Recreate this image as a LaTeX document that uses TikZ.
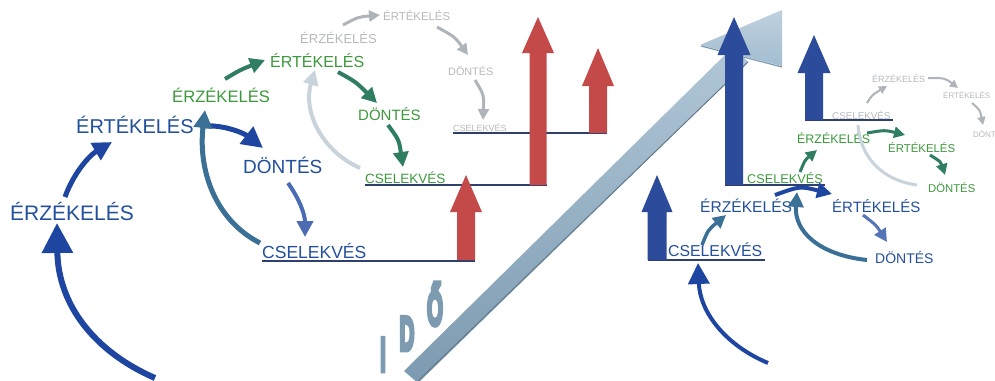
\documentclass[tikz,border=0pt]{standalone}
\usepackage{fontspec}
\setmainfont{Liberation Sans}
\newfontfamily\idofont[FakeBold=10]{Liberation Sans Bold}
\usetikzlibrary{arrows.meta}
\definecolor{blueT}{HTML}{22509C}
\definecolor{greenT}{HTML}{3C9A3C}
\definecolor{grayT}{HTML}{B5B9BE}
\definecolor{blueA}{HTML}{1E46A0}
\definecolor{steelA}{HTML}{3A6F96}
\definecolor{tealA}{HTML}{2F7E62}
\definecolor{grayA}{HTML}{AEB4BA}
\definecolor{lgrayA}{HTML}{C9D3DC}
\definecolor{redB}{HTML}{C44A4A}
\definecolor{blueB}{HTML}{2C4B9A}
\definecolor{timeA}{HTML}{A3BDD0}
\definecolor{timeD}{HTML}{7C9AB0}
\definecolor{lineC}{HTML}{2F3F6E}
\newcommand\fs[1]{\fontsize{#1}{#1}\selectfont}
\newcommand\upblock[7]{%
  \fill[#1] (#2-#6,#3) -- (#2-#6,#4) -- (#2-#7,#4) -- (#2,#5) -- (#2+#7,#4) -- (#2+#6,#4) -- (#2+#6,#3) -- cycle;}
\tikzset{
  tx/.style={inner sep=0pt, anchor=base west},
  baseline/.style={draw=lineC, line width=1.4pt},
  cur/.style 2 args={line width=#1, -{Triangle[length=#2,width=#2]}},
  ido/.style={inner sep=0pt, anchor=base, text depth=0pt, text=timeD, font=\idofont\fs{34}, transform shape, xscale=0.6, yscale=1.4}
}
\begin{document}
\begin{tikzpicture}[x=1pt,y=-1pt]
\useasboundingbox (0,0) rectangle (995,380);
\fill[white] (0,0) rectangle (995,380);

% ---------- time arrow ----------
\shade[top color=timeA!85!white, bottom color=timeD] (404,371) -- (733,47) -- (748,62) -- (418,383) -- cycle;
\draw[timeD!80!black, line width=1pt] (418,381) -- (748,62);
\shade[top color=timeA!70!white, bottom color=timeA] (700,45) -- (782,10) -- (782,66) -- cycle;
\draw[timeD, line width=1.2pt] (701,46) -- (782,67);

% IDŐ
\node[ido] (ti) at (383,371) {I};
\node[ido] (td) at (407,350) {D};
\node[ido] (to) at (435,325) {Ő};

% ---------- base lines ----------
\draw[baseline] (262,261) -- (475,261);
\draw[baseline] (365,185) -- (547,185);
\draw[baseline] (453,133) -- (607,133);
\draw[baseline] (648,260) -- (765,260);
\draw[baseline] (725,185) -- (825,185);
\draw[baseline] (805,120) -- (893,120);

% ---------- block arrows ----------
\upblock{redB}{466}{260}{212}{175}{9}{16}
\upblock{redB}{538}{185}{53}{17}{8.5}{16}
\upblock{redB}{598}{133}{86}{48}{9}{16}
\upblock{blueB}{734}{185}{55}{17}{9}{16.5}
\upblock{blueB}{814}{120}{73}{35}{9}{16.5}
\upblock{blueB}{657}{260}{212}{175}{9.5}{15.5}

% ---------- left blue cycle ----------
\node[tx,text=blueT,font=\fs{21}] (b1) at (10,220) {ÉRZÉKELÉS};
\node[tx,text=blueT,font=\fs{20}] (b2) at (76,133) {ÉRTÉKELÉS};
\node[tx,text=blueT,font=\fs{19}] (b3) at (243,173) {DÖNTÉS};
\node[tx,text=blueT,font=\fs{17.5}] (b4) at (262,258) {CSELEKVÉS};
\draw[cur={6pt}{30pt}, blueA] (155,378) .. controls (95,352) and (58,305) .. (57,223);
\draw[cur={5pt}{19pt}, blueA] (65,197) .. controls (74,172) and (90,155) .. (112,142);
\draw[cur={5pt}{21pt}, blueA] (200,126) .. controls (225,124) and (245,134) .. (263,148);
\draw[cur={4pt}{16pt}, blueA!80!white] (288,183) .. controls (300,200) and (305,215) .. (305,237);
\draw[cur={5pt}{18pt}, steelA] (260,243) .. controls (215,220) and (198,170) .. (205,110);

% ---------- left green cycle ----------
\node[tx,text=greenT,font=\fs{16.6}] (g1) at (172,102) {ÉRZÉKELÉS};
\node[tx,text=greenT,font=\fs{16}] (g2) at (270,67) {ÉRTÉKELÉS};
\node[tx,text=greenT,font=\fs{15}] (g3) at (358,120) {DÖNTÉS};
\node[tx,text=greenT,font=\fs{13.5}] (g4) at (365,183) {CSELEKVÉS};
\draw[cur={4pt}{15pt}, tealA] (225,79) .. controls (240,70) .. (265,60);
\draw[cur={4pt}{15pt}, tealA] (338,72) .. controls (356,82) .. (377,103);
\draw[cur={4pt}{15pt}, tealA] (388,125) .. controls (399,140) .. (403,167);
\draw[cur={4pt}{15pt}, lgrayA] (360,168) .. controls (320,150) and (303,110) .. (315,70);

% ---------- left gray cycle ----------
\node[tx,text=grayT,font=\fs{13}] (h1) at (300,43) {ÉRZÉKELÉS};
\node[tx,text=grayT,font=\fs{11.4}] (h2) at (383,20) {ÉRTÉKELÉS};
\node[tx,text=grayT,font=\fs{10.8}] (h3) at (448,75) {DÖNTÉS};
\node[tx,text=grayT,font=\fs{9}] (h4) at (453,131) {CSELEKVÉS};
\draw[cur={3pt}{11pt}, grayA] (343,25) .. controls (358,17) .. (380,15);
\draw[cur={3pt}{11pt}, grayA] (437,27) .. controls (455,37) .. (468,55);
\draw[cur={3pt}{11pt}, grayA] (475,80) .. controls (484,95) .. (483,120);

% ---------- right blue cycle ----------
\node[tx,text=blueT,font=\fs{15.8}] (r1) at (668,256) {CSELEKVÉS};
\node[tx,text=blueT,font=\fs{15.6}] (r2) at (700,212) {ÉRZÉKELÉS};
\node[tx,text=blueT,font=\fs{15}] (r3) at (832,212) {ÉRTÉKELÉS};
\node[tx,text=blueT,font=\fs{14}] (r4) at (875,263) {DÖNTÉS};
\draw[cur={4pt}{21pt}, blueA] (768,363) .. controls (725,345) and (700,312) .. (698,263);
\draw[cur={3.5pt}{13pt}, steelA] (702,245) .. controls (708,230) .. (726,215);
\draw[cur={4pt}{15pt}, blueA] (775,195) .. controls (800,186) .. (832,194);
\draw[cur={3pt}{13pt}, blueA!75!white] (863,215) .. controls (876,225) .. (887,242);
\draw[cur={4pt}{15pt}, steelA] (867,260) .. controls (820,255) and (794,232) .. (797,192);

% ---------- right green cycle ----------
\node[tx,text=greenT,font=\fs{12.7}] (s1) at (747,183) {CSELEKVÉS};
\node[tx,text=greenT,font=\fs{12.4}] (s2) at (797,143) {ÉRZÉKELÉS};
\node[tx,text=greenT,font=\fs{11.4}] (s3) at (888,152) {ÉRTÉKELÉS};
\node[tx,text=greenT,font=\fs{11.3}] (s4) at (928,192) {DÖNTÉS};
\draw[cur={3pt}{11pt}, tealA] (800,172) .. controls (805,160) .. (817,150);
\draw[cur={3pt}{11pt}, tealA] (867,133) .. controls (885,130) .. (905,135);
\draw[cur={3pt}{11pt}, tealA] (930,155) .. controls (941,162) .. (945,175);
\draw[line width=3pt, lgrayA] (917,185) .. controls (880,180) and (860,155) .. (858,125);

% ---------- right gray cycle ----------
\node[tx,text=grayT,font=\fs{9.8}] (u1) at (832,119) {CSELEKVÉS};
\node[tx,text=grayT,font=\fs{9}] (u2) at (872,82) {ÉRZÉKELÉS};
\node[tx,text=grayT,font=\fs{8}] (u3) at (943,98) {ÉRTÉKELÉS};
\node[tx,text=grayT,font=\fs{8}] (u4) at (973,137) {DÖNT};
\draw[cur={2pt}{8pt}, grayA] (867,103) .. controls (872,95) .. (887,86);
\draw[cur={2pt}{8pt}, grayA] (928,78) .. controls (945,78) .. (958,88);
\draw[cur={2pt}{8pt}, grayA] (972,103) .. controls (980,110) .. (983,125);
\end{tikzpicture}
\end{document}
